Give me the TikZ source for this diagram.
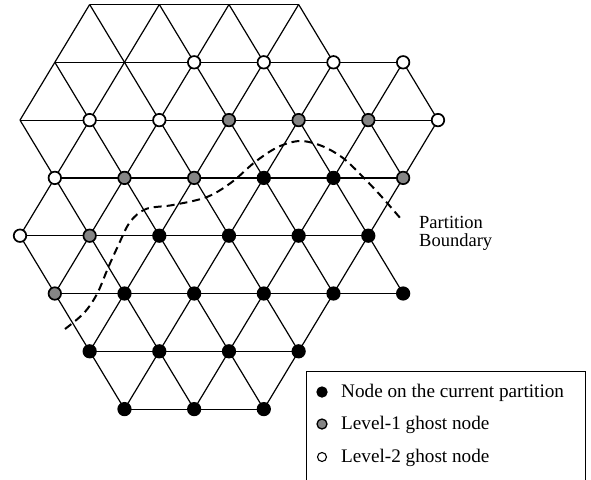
\documentclass[tikz,border=0pt]{standalone}
\usepackage{fontspec}
\setmainfont{Liberation Serif}
\begin{document}
\begin{tikzpicture}[x=1pt,y=-1pt,
  edge/.style={line width=1.2pt,black},
  vtx/.style={circle,inner sep=0pt,minimum size=12.5pt,line width=1.7pt,draw=black},
  cur/.style={vtx,fill=black},
  lvone/.style={vtx,fill=black!48},
  lvtwo/.style={vtx,fill=white},
  boundary/.style={line width=2pt,dash pattern=on 8pt off 5pt},
  label/.style={font=\fontsize{18.5}{17}\selectfont,inner sep=0pt},
  keytext/.style={font=\fontsize{19.2}{17}\selectfont,inner sep=0pt},
  keydot/.style={circle,inner sep=0pt,minimum size=10pt,line width=1.3pt,draw=black},
]
\useasboundingbox (0,0) rectangle (591,479);

% lattice vertices: row r, half-column k
\foreach \r/\a/\c/\b in {0/2/4/8,1/1/3/11,2/0/2/12,3/1/3/11,4/0/2/10,5/1/3/11,6/2/4/8,7/3/5/7}{
  \foreach \k in {\a,\c,...,\b}{
    \coordinate (v-\r-\k) at ({20+34.83*\k},{4.5+57.8*\r});
  }
}

% lattice edges: right neighbour and the two neighbours in the next row
\foreach \r/\a/\c/\b in {0/2/4/8,1/1/3/11,2/0/2/12,3/1/3/11,4/0/2/10,5/1/3/11,6/2/4/8,7/3/5/7}{
  \foreach \k in {\a,\c,...,\b}{
    \pgfmathtruncatemacro{\kr}{\k+2}
    \pgfmathtruncatemacro{\kl}{\k-1}
    \pgfmathtruncatemacro{\kp}{\k+1}
    \pgfmathtruncatemacro{\rn}{\r+1}
    \ifcsname pgf@sh@ns@v-\r-\kr\endcsname
      \draw[edge] (v-\r-\k) -- (v-\r-\kr);
    \fi
    \ifcsname pgf@sh@ns@v-\rn-\kl\endcsname
      \draw[edge] (v-\r-\k) -- (v-\rn-\kl);
    \fi
    \ifcsname pgf@sh@ns@v-\rn-\kp\endcsname
      \draw[edge] (v-\r-\k) -- (v-\rn-\kp);
    \fi
  }
}

% partition boundary
\draw[boundary] plot[smooth,tension=0.55] coordinates {
  (65,329) (84,313) (97,294) (108,268) (118,246) (130,222) (146,209)
  (173,205) (207,197) (232,182) (255,162) (278,147) (300,141)
  (322,146) (343,158) (362,176) (381,196) (401,219)};

% nodes owned by the current partition
\foreach \n in {3-7,3-9,4-4,4-6,4-8,4-10,5-3,5-5,5-7,5-9,5-11,6-2,6-4,6-6,6-8,7-3,7-5,7-7}
  \node[cur] (m-\n) at (v-\n) {};
% level-1 ghost nodes
\foreach \n in {2-6,2-8,2-10,3-3,3-5,3-11,4-2,5-1}
  \node[lvone] (m-\n) at (v-\n) {};
% level-2 ghost nodes
\foreach \n in {1-5,1-7,1-9,1-11,2-2,2-4,2-12,3-1,4-0}
  \node[lvtwo] (m-\n) at (v-\n) {};

% boundary label
\node[label,anchor=base west] (pb1) at (419,228) {Partition};
\node[label,anchor=base west] (pb2) at (419,246) {Boundary};

% legend
\draw[line width=1.2pt] (306.5,479.5) -- (306.5,371.5) -- (585.5,371.5) -- (585.5,479.5);
\node[keydot,fill=black] (k1) at (322,392) {};
\node[keydot,fill=black!48] (k2) at (322,424) {};
\node[keydot,fill=white,minimum size=9pt,line width=1.1pt] (k3) at (322,457) {};
\node[keytext,anchor=base west] (t1) at (341,397.5) {Node on the current partition};
\node[keytext,anchor=base west] (t2) at (341,429) {Level-1 ghost node};
\node[keytext,anchor=base west] (t3) at (341,462) {Level-2 ghost node};
\end{tikzpicture}
\end{document}
